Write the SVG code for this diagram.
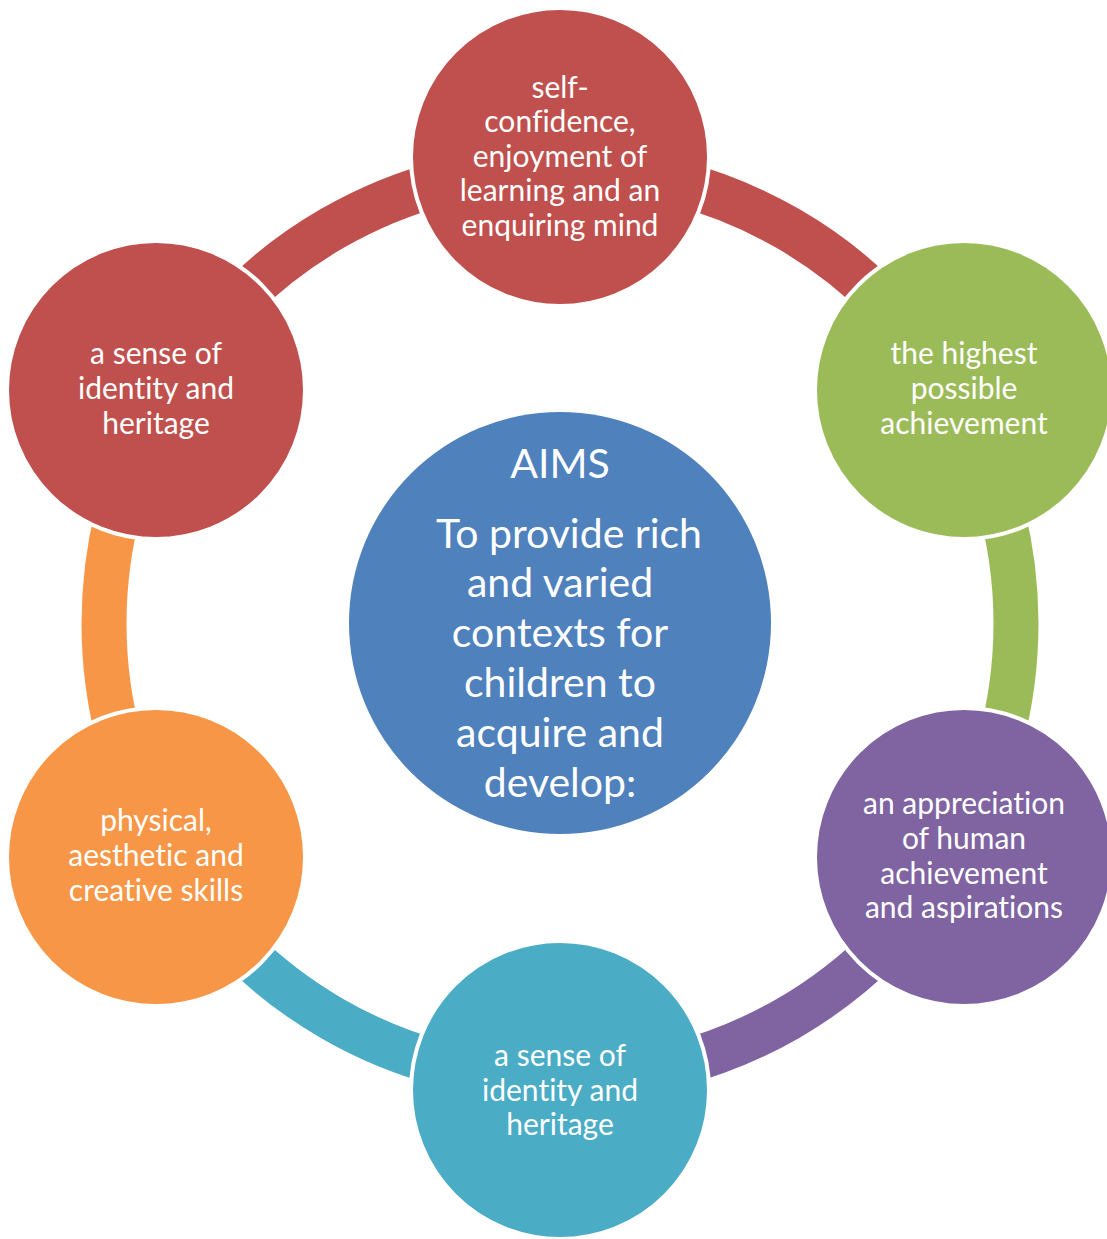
<svg xmlns="http://www.w3.org/2000/svg" width="1107" height="1239" viewBox="0 0 1107 1239">
  <style>
    .arc { fill: none; stroke-width: 45; stroke-linecap: butt; }
    .node { stroke: #FFFFFF; stroke-width: 4; }
    .lbl { fill: #FFFFFF; font-family: Lato, "Open Sans", sans-serif; font-size: 30px; text-anchor: middle; font-variant-ligatures: none; font-feature-settings: "liga" 0, "clig" 0; }
    .big { fill: #FFFFFF; font-family: Lato, "Open Sans", sans-serif; font-size: 41px; text-anchor: middle; font-variant-ligatures: none; font-feature-settings: "liga" 0, "clig" 0; }
  </style>
  <rect width="1107" height="1239" fill="#FFFFFF"/>
  <g id="connectors">
    <path class="arc" stroke="#C0504D" d="M 560 167.5 A 456 456 0 0 1 954.9 395.5"/>
    <path class="arc" stroke="#9BBB59" d="M 954.9 395.5 A 456 456 0 0 1 954.9 851.5"/>
    <path class="arc" stroke="#8064A2" d="M 954.9 851.5 A 456 456 0 0 1 560 1079.5"/>
    <path class="arc" stroke="#4BACC6" d="M 560 1079.5 A 456 456 0 0 1 165.1 851.5"/>
    <path class="arc" stroke="#F79646" d="M 165.1 851.5 A 456 456 0 0 1 165.1 395.5"/>
    <path class="arc" stroke="#C0504D" d="M 165.1 395.5 A 456 456 0 0 1 560 167.5"/>
  </g>
  <g id="center">
    <circle cx="560" cy="623" r="211" fill="#4F81BD"/>
    <text class="big" x="560" y="478">AIMS</text>
    <text class="big" x="569" y="548">To provide rich</text>
    <text class="big" x="560" y="597">and varied</text>
    <text class="big" x="560" y="647">contexts for</text>
    <text class="big" x="560" y="697">children to</text>
    <text class="big" x="560" y="747">acquire and</text>
    <text class="big" x="560" y="797">develop:</text>
  </g>
  <g id="node-top">
    <circle class="node" cx="560" cy="157" r="149" fill="#C0504D"/>
    <text class="lbl" x="560" y="98">self-</text>
    <text class="lbl" x="560" y="132">confidence,</text>
    <text class="lbl" x="560" y="167">enjoyment of</text>
    <text class="lbl" x="560" y="201">learning and an</text>
    <text class="lbl" x="560" y="236">enquiring mind</text>
  </g>
  <g id="node-top-right">
    <circle class="node" cx="964" cy="390" r="149" fill="#9BBB59"/>
    <text class="lbl" x="964" y="364">the highest</text>
    <text class="lbl" x="964" y="399">possible</text>
    <text class="lbl" x="964" y="434">achievement</text>
  </g>
  <g id="node-bottom-right">
    <circle class="node" cx="964" cy="857" r="149" fill="#8064A2"/>
    <text class="lbl" x="964" y="814">an appreciation</text>
    <text class="lbl" x="964" y="849">of human</text>
    <text class="lbl" x="964" y="884">achievement</text>
    <text class="lbl" x="964" y="918">and aspirations</text>
  </g>
  <g id="node-bottom">
    <circle class="node" cx="560" cy="1090" r="149" fill="#4BACC6"/>
    <text class="lbl" x="560" y="1066">a sense of</text>
    <text class="lbl" x="560" y="1101">identity and</text>
    <text class="lbl" x="560" y="1135">heritage</text>
  </g>
  <g id="node-bottom-left">
    <circle class="node" cx="156" cy="857" r="149" fill="#F79646"/>
    <text class="lbl" x="156" y="831">physical,</text>
    <text class="lbl" x="156" y="866">aesthetic and</text>
    <text class="lbl" x="156" y="901">creative skills</text>
  </g>
  <g id="node-top-left">
    <circle class="node" cx="156" cy="390" r="149" fill="#C0504D"/>
    <text class="lbl" x="156" y="364">a sense of</text>
    <text class="lbl" x="156" y="399">identity and</text>
    <text class="lbl" x="156" y="434">heritage</text>
  </g>
</svg>
